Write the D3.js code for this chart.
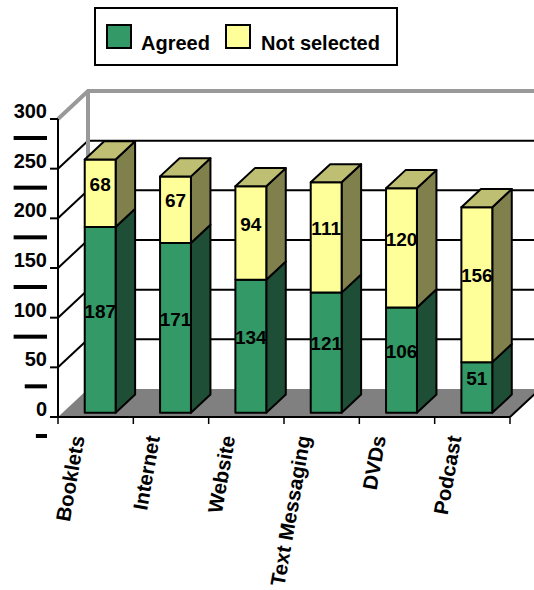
<!DOCTYPE html>
<html>
<head>
<meta charset="utf-8">
<script src="https://cdn.jsdelivr.net/npm/d3@7"></script>
<style>
  html, body { margin: 0; padding: 0; background: #ffffff; }
  svg { display: block; }
  text { font-family: "Liberation Sans", Arial, sans-serif; font-weight: bold; fill: #000; }
</style>
</head>
<body>
<svg id="chart" width="534" height="590"></svg>
<script>
// Survey responses per delivery channel
const categories = ["Booklets", "Internet", "Website", "Text Messaging", "DVDs", "Podcast"];
const agreed = [187, 171, 134, 121, 106, 51];
const notSelected = [68, 67, 94, 111, 120, 156];
const seriesNames = ["Agreed", "Not selected"];
const yTicks = [0, 50, 100, 150, 200, 250, 300];

(function () {
const svg = d3.select("#chart");

// Plot frame (front plane) and 3-D depth vector
const plotLeft = 58, plotRight = 510, plotBottom = 417, plotTop = 119;
const depth = { dx: 30, dy: -28 };
const barDepth = [0.15, 0.80];          // bar occupies this slice of the depth

const x = d3.scaleBand().domain(categories).range([plotLeft, plotRight]).padding(0);
const y = d3.scaleLinear().domain([0, 300]).range([plotBottom, plotTop]);

const colors = {
  agreed: { front: "#339966", side: "#1e4f36", top: "#267350" },
  notSel: { front: "#ffff99", side: "#80804d", top: "#bfbf73" }
};

const P = (px, py, d) => [px + depth.dx * d, py + depth.dy * d];
const poly = pts => "M" + pts.map(p => p.join(",")).join("L") + "Z";

// ---- back wall gridlines and left wall diagonals ----
const grid = svg.append("g");
yTicks.filter(v => v > 0 && v < 300).forEach(v => {
  const a = P(plotLeft, y(v), 1), b = P(plotRight, y(v), 1);
  grid.append("line").attr("x1", a[0]).attr("y1", a[1]).attr("x2", b[0] + 10).attr("y2", b[1])
    .attr("stroke", "#000").attr("stroke-width", 2);
  grid.append("line").attr("x1", plotLeft).attr("y1", y(v)).attr("x2", a[0]).attr("y2", a[1])
    .attr("stroke", "#000").attr("stroke-width", 2);
});

// wall frame (grey)
const tl = P(plotLeft, y(300), 1);
grid.append("path")
  .attr("d", `M${plotLeft},${y(300)}L${tl[0]},${tl[1]}L${plotRight + 40},${tl[1]}`)
  .attr("fill", "none").attr("stroke", "#999999").attr("stroke-width", 4);
grid.append("line").attr("x1", tl[0]).attr("y1", tl[1]).attr("x2", tl[0]).attr("y2", P(plotLeft, y(0), 1)[1])
  .attr("stroke", "#999999").attr("stroke-width", 4);

// ---- floor ----
svg.append("path")
  .attr("d", poly([P(plotLeft, y(0), 0), P(plotRight, y(0), 0), P(plotRight, y(0), 1), P(plotLeft, y(0), 1)]))
  .attr("fill", "#808080");
const fr0 = P(plotRight, y(0), 0), fr1 = P(plotRight, y(0), 1);
svg.append("line").attr("x1", fr0[0]).attr("y1", fr0[1]).attr("x2", fr1[0]).attr("y2", fr1[1])
  .attr("stroke", "#000").attr("stroke-width", 2);

// ---- stacked 3-D bars ----
const barFrac = 0.41;
const bars = svg.append("g");
categories.forEach((c, i) => {
  const w = x.bandwidth() * barFrac;
  const x0 = x(c) + (x.bandwidth() - w) / 2;
  const segs = [
    { lo: 0, hi: agreed[i], col: colors.agreed, val: agreed[i] },
    { lo: agreed[i], hi: agreed[i] + notSelected[i], col: colors.notSel, val: notSelected[i] }
  ];
  const g = bars.append("g");
  segs.forEach((s, k) => {
    const d0 = barDepth[0], d1 = barDepth[1];
    const front = [P(x0, y(s.hi), d0), P(x0 + w, y(s.hi), d0), P(x0 + w, y(s.lo), d0), P(x0, y(s.lo), d0)];
    const side = [P(x0 + w, y(s.hi), d0), P(x0 + w, y(s.hi), d1), P(x0 + w, y(s.lo), d1), P(x0 + w, y(s.lo), d0)];
    g.append("path").attr("d", poly(side)).attr("fill", s.col.side)
      .attr("stroke", "#000").attr("stroke-width", 2).attr("stroke-linejoin", "round");
    g.append("path").attr("d", poly(front)).attr("fill", s.col.front)
      .attr("stroke", "#000").attr("stroke-width", 2).attr("stroke-linejoin", "round");
    if (k === segs.length - 1) {
      const topF = [P(x0, y(s.hi), d0), P(x0, y(s.hi), d1), P(x0 + w, y(s.hi), d1), P(x0 + w, y(s.hi), d0)];
      g.append("path").attr("d", poly(topF)).attr("fill", s.col.top)
        .attr("stroke", "#000").attr("stroke-width", 2).attr("stroke-linejoin", "round");
    }
  });
  // value labels at the middle of each segment
  segs.forEach(s => {
    const dm = (barDepth[0] + barDepth[1]) / 2;
    const cx = P(x0 + w / 2, 0, barDepth[0])[0];
    const cy = P(0, y((s.lo + s.hi) / 2), dm)[1];
    g.append("text").attr("x", cx).attr("y", cy).attr("dy", "0.36em")
      .attr("text-anchor", "middle").style("font-size", "19px").text(s.val);
  });
});

// ---- front axes ----
const axisG = svg.append("g");
axisG.append("line").attr("x1", plotLeft).attr("y1", y(300)).attr("x2", plotLeft).attr("y2", y(0) + 1)
  .attr("stroke", "#000").attr("stroke-width", 2);
axisG.append("line").attr("x1", plotLeft - 1).attr("y1", y(0)).attr("x2", plotRight).attr("y2", y(0))
  .attr("stroke", "#000").attr("stroke-width", 2);

// x ticks at band edges
const edges = categories.map(c => x(c)).concat([plotRight]);
edges.forEach(e => {
  axisG.append("line").attr("x1", e).attr("y1", y(0)).attr("x2", e).attr("y2", y(0) + 7)
    .attr("stroke", "#000").attr("stroke-width", 1.5);
});

// y ticks, labels and their underline dashes
yTicks.forEach(v => {
  axisG.append("line").attr("x1", plotLeft - 8).attr("y1", y(v)).attr("x2", plotLeft).attr("y2", y(v))
    .attr("stroke", "#000").attr("stroke-width", 2);
  const t = axisG.append("text").attr("x", 47).attr("y", y(v) - 1)
    .attr("text-anchor", "end").style("font-size", "20px").text(v);
  const len = t.node().getComputedTextLength();
  axisG.append("rect").attr("x", 47 - len).attr("y", y(v) + 17).attr("width", len).attr("height", 4)
    .attr("fill", "#000");
});

// category labels, rotated
categories.forEach(c => {
  const cx = x(c) + x.bandwidth() / 2 - 11;
  axisG.append("text")
    .attr("transform", `translate(${cx},437) rotate(-80)`)
    .attr("text-anchor", "end")
    .style("font-size", "20.5px")
    .text(c);
});

// ---- legend ----
const lg = svg.append("g");
lg.append("rect").attr("x", 95).attr("y", 8).attr("width", 302).attr("height", 57)
  .attr("fill", "#fff").attr("stroke", "#000").attr("stroke-width", 2);
const legendItems = [
  { name: seriesNames[0], col: colors.agreed.front, sx: 107, tx: 141 },
  { name: seriesNames[1], col: colors.notSel.front, sx: 226, tx: 261 }
];
legendItems.forEach(it => {
  lg.append("rect").attr("x", it.sx).attr("y", 25).attr("width", 24).attr("height", 23)
    .attr("fill", it.col).attr("stroke", "#000").attr("stroke-width", 2);
  lg.append("text").attr("x", it.tx).attr("y", 50).style("font-size", "20px").text(it.name);
});
})();
</script>
</body>
</html>
